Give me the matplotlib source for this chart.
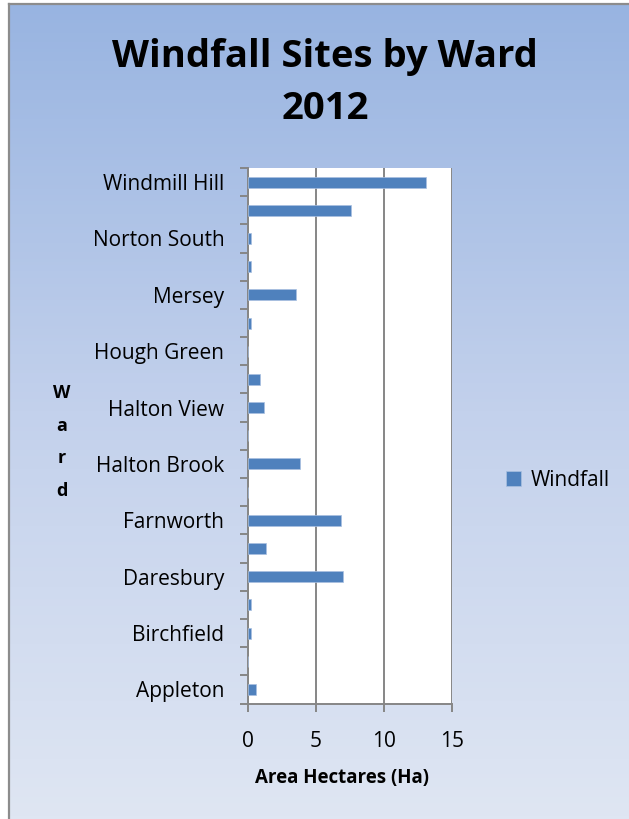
import numpy as np
import matplotlib
matplotlib.use("Agg")
import matplotlib.pyplot as plt
from matplotlib.colors import LinearSegmentedColormap

# Windfall site area per ward (hectares), 2012
wards = ["Appleton", "Beechwood", "Birchfield", "Broadheath", "Daresbury",
         "Ditton", "Farnworth", "Grange", "Halton Brook", "Halton Castle",
         "Halton View", "Heath", "Hough Green", "Kingsway", "Mersey",
         "Norton North", "Norton South", "Riverside", "Windmill Hill"]
windfall_ha = [0.6, 0.0, 0.2, 0.2, 7.0,
               1.3, 6.85, 0.03, 3.8, 0.0,
               1.2, 0.9, 0.0, 0.2, 3.55,
               0.2, 0.2, 7.55, 13.1]
x_ticks = [0, 5, 10, 15]
series_name = "Windfall"

plt.rcParams['font.family'] = ['Open Sans', 'DejaVu Sans']

W, H = 629, 819
fig = plt.figure(figsize=(W / 100, H / 100), dpi=100)


def fx(px):
    return px / W


def fy(py):
    return 1 - py / H


# chart area: vertical blue gradient with grey frame
bg = fig.add_axes([fx(9), 0, 1 - fx(9), fy(4)])
grad = np.linspace(0, 1, 256).reshape(-1, 1)
cmap = LinearSegmentedColormap.from_list('bg', ['#98b4e1', '#c3d1ec', '#dfe6f3'])
bg.imshow(grad, aspect='auto', cmap=cmap, extent=[0, 1, 0, 1], origin='upper')
bg.set_xticks([])
bg.set_yticks([])
for side in ('right', 'bottom'):
    bg.spines[side].set_visible(False)
for side in ('left', 'top'):
    bg.spines[side].set_color('#8c8c8c')
    bg.spines[side].set_linewidth(1.6)

# plot area
ax = fig.add_axes([fx(248), fy(703.5), fx(452 - 248), (703.5 - 168) / H])
ax.set_facecolor('white')
ypos = np.arange(len(wards))
bars = ax.barh(ypos, windfall_ha, height=0.39, color='#4f81bd',
               edgecolor='#a9c0e0', linewidth=0.5, label=series_name, zorder=3)

ax.set_xlim(0, 15)
ax.set_ylim(-0.5, len(wards) - 0.5)
ax.set_xticks(x_ticks)
ax.set_xticklabels([str(t) for t in x_ticks], fontsize=15)
ax.grid(axis='x', color='#868686', linewidth=1.4, zorder=1)
ax.set_axisbelow(True)

# category labels on every other ward, tick marks on category boundaries
ax.set_yticks(ypos)
ax.set_yticklabels([w if i % 2 == 0 else '' for i, w in enumerate(wards)], fontsize=15)
ax.set_yticks(np.arange(-0.5, len(wards), 1.0), minor=True)
ax.tick_params(axis='y', which='major', length=0, pad=17)
ax.tick_params(axis='y', which='minor', length=6, width=1.4, color='#868686', direction='out')
ax.tick_params(axis='x', which='major', length=6, width=1.4, color='#868686', direction='out', pad=14)

ax.spines['top'].set_visible(False)
ax.spines['right'].set_visible(False)
for side in ('left', 'bottom'):
    ax.spines[side].set_color('#868686')
    ax.spines[side].set_linewidth(1.4)

# titles
fig.text(fx(325), fy(83), "Windfall Sites by Ward\n2012", ha='center', va='center',
         fontsize=27.5, fontweight='bold', linespacing=1.5)
fig.text(fx(342), fy(778), "Area Hectares (Ha)", ha='center', va='center',
         fontsize=13.5, fontweight='bold')
fig.text(fx(62), fy(442), "W\na\nr\nd", ha='center', va='center',
         fontsize=13, fontweight='bold', linespacing=2.05)

fig.legend(handles=[bars], labels=[series_name], loc='center left',
           bbox_to_anchor=(fx(487), fy(480)), frameon=False, fontsize=15,
           handlelength=0.75, handleheight=0.75, handletextpad=0.45)

fig.savefig("out.png", dpi=100)
